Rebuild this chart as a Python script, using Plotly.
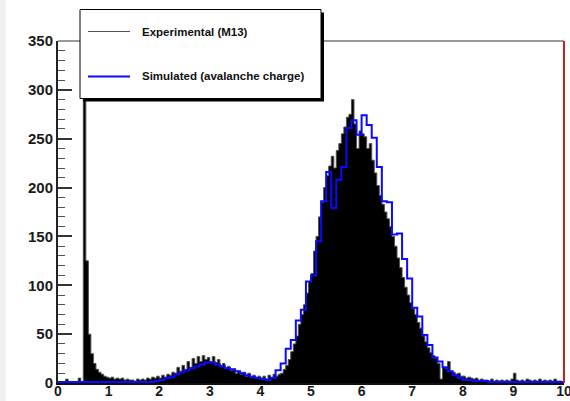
import plotly.graph_objects as go

# ---------------- data ----------------
X_RANGE = [0.0, 10.0]
Y_RANGE = [0, 350]
EXP_BIN = 0.05   # experimental histogram bin width
SIM_BIN = 0.1    # simulated histogram bin width

# Experimental (M13) counts, bins of 0.05 starting at 0.00
exp_counts = [
    0, 0, 0, 4, 0, 0, 0, 0, 5, 0,                  # 0.00-0.45
    420, 125, 50, 30, 20, 14, 11, 9, 7, 6,         # 0.50-0.95
    5, 6, 4, 5, 4, 5, 3, 4, 3, 3,                  # 1.00-1.45
    2, 4, 3, 4, 3, 5, 4, 6, 5, 7,                  # 1.50-1.95
    5, 8, 6, 9, 8, 11, 10, 16, 12, 18,             # 2.00-2.45
    14, 22, 16, 25, 20, 27, 22, 28, 24, 26,        # 2.50-2.95
    22, 27, 21, 24, 18, 20, 15, 17, 13, 14,        # 3.00-3.45
    10, 12, 9, 11, 7, 10, 6, 8, 5, 7,              # 3.50-3.95
    5, 7, 4, 8, 6, 9, 7, 9, 10, 14,                # 4.00-4.45
    18, 24, 32, 40, 48, 60, 70, 80, 92, 104,       # 4.50-4.95
    112, 135, 150, 170, 185, 200, 212, 222, 232, 220,  # 5.00-5.45
    238, 245, 255, 262, 272, 275, 290, 265, 240, 258,  # 5.50-5.95
    255, 252, 240, 245, 228, 215, 202, 192, 183, 175,  # 6.00-6.45
    168, 160, 150, 140, 128, 118, 108, 98, 90, 82,     # 6.50-6.95
    76, 70, 62, 56, 48, 42, 36, 31, 28, 25,        # 7.00-7.45
    20, 4, 16, 15, 22, 12, 11, 9, 10, 7,           # 7.50-7.95
    7, 5, 6, 5, 4, 5, 3, 4, 3, 3,                  # 8.00-8.45
    2, 4, 2, 3, 2, 3, 2, 3, 2, 4,                  # 8.50-8.95
    10, 3, 2, 3, 2, 4, 3, 2, 3, 2,                 # 9.00-9.45
    4, 2, 3, 2, 3, 2, 4, 2, 2, 1,                  # 9.50-9.95
]

# Simulated (avalanche charge) counts, bins of 0.1 starting at 0.0
sim_counts = [
    1, 1, 1, 1, 1, 1, 1, 1, 1, 1,                  # 0.0-0.9
    1, 1, 1, 1, 1, 1, 1, 1, 1, 2,                  # 1.0-1.9
    3, 5, 6, 9, 11, 13, 15, 17, 19, 21,            # 2.0-2.9
    21, 19, 17, 15, 14, 12, 10, 8, 6, 5,           # 3.0-3.9
    4, 3, 5, 13, 20, 35, 44, 64, 75, 104,          # 4.0-4.9
    110, 145, 186, 216, 179, 208, 221, 261, 269, 254,  # 5.0-5.9
    274, 264, 251, 221, 186, 185, 152, 153, 127, 107,  # 6.0-6.9
    77, 68, 49, 39, 26, 22, 16, 12, 8, 5,          # 7.0-7.9
    3, 3, 2, 2, 2, 1, 1, 1, 1, 1,                  # 8.0-8.9
    1, 1, 1, 1, 1, 1, 1, 1, 1, 1,                  # 9.0-9.9
]

x_tick_vals = list(range(0, 11))
y_tick_vals = [0, 50, 100, 150, 200, 250, 300, 350]
legend_labels = ["Experimental (M13)", "Simulated (avalanche charge)"]

# ---------------- helpers ----------------
def step_xy(counts, width, x0=0.0):
    xs = [x0 + i * width for i in range(len(counts) + 1)]
    ys = list(counts) + [counts[-1]]
    return xs, ys

W, H = 570, 401
ML, MR, MT, MB = 58, 6, 41, 18
PW, PH = W - ML - MR, H - MT - MB

def px(xp):
    return (xp - ML) / PW

def py(yp):
    return (H - MB - yp) / PH

FONT = "Liberation Sans, Arial, sans-serif"
EXP_COLOR = "#505050"
SIM_COLOR = "#0a0aff"

ex, ey = step_xy(exp_counts, EXP_BIN)
sx, sy = step_xy(sim_counts, SIM_BIN)

fig = go.Figure()
fig.add_trace(go.Scatter(
    x=ex, y=ey, mode="lines", name=legend_labels[0],
    line=dict(shape="hv", color=EXP_COLOR, width=1),
    fill="tozeroy", fillcolor="black", showlegend=False,
    hoverinfo="skip"))
fig.add_trace(go.Scatter(
    x=sx, y=sy, mode="lines", name=legend_labels[1],
    line=dict(shape="hv", color=SIM_COLOR, width=2),
    showlegend=False, hoverinfo="skip"))

shapes = []
# light strip on far left of page
shapes.append(dict(type="rect", xref="paper", yref="paper", layer="below",
                   x0=px(0), x1=px(6), y0=py(H), y1=py(0),
                   fillcolor="#f0f0f0", line=dict(width=0)))
# frame: top grey, right red
shapes.append(dict(type="line", xref="paper", yref="paper", layer="above",
                   x0=0, x1=1, y0=1, y1=1, line=dict(color="#999999", width=2)))
shapes.append(dict(type="line", xref="paper", yref="paper", layer="above",
                   x0=1, x1=1, y0=0, y1=1, line=dict(color="#cc2020", width=2)))
# legend shadow and box
shapes.append(dict(type="rect", xref="paper", yref="paper", layer="above",
                   x0=px(83), x1=px(324), y0=py(101.5), y1=py(12.5),
                   fillcolor="black", line=dict(width=0)))
shapes.append(dict(type="rect", xref="paper", yref="paper", layer="above",
                   x0=px(80), x1=px(321), y0=py(98.5), y1=py(9.5),
                   fillcolor="white", line=dict(color="black", width=1)))
# legend symbols
shapes.append(dict(type="line", xref="paper", yref="paper", layer="above",
                   x0=px(88), x1=px(130), y0=py(31.5), y1=py(31.5),
                   line=dict(color=EXP_COLOR, width=1)))
shapes.append(dict(type="line", xref="paper", yref="paper", layer="above",
                   x0=px(88), x1=px(130), y0=py(76.5), y1=py(76.5),
                   line=dict(color=SIM_COLOR, width=2)))

annotations = [
    dict(xref="paper", yref="paper", x=px(140), y=py(31.5), text=legend_labels[0],
         showarrow=False, xanchor="left", yanchor="middle",
         font=dict(family=FONT, size=11.5, color="#111111", weight="bold")),
    dict(xref="paper", yref="paper", x=px(140), y=py(76.5), text=legend_labels[1],
         showarrow=False, xanchor="left", yanchor="middle",
         font=dict(family=FONT, size=11.5, color="#111111", weight="bold")),
]

fig.update_layout(
    width=W, height=H,
    margin=dict(l=ML, r=MR, t=MT, b=MB, pad=0, autoexpand=False),
    paper_bgcolor="white", plot_bgcolor="white",
    showlegend=False,
    shapes=shapes, annotations=annotations,
    font=dict(family=FONT, color="#1a1a1a"),
    xaxis=dict(range=X_RANGE, showline=True, linecolor="#111111", linewidth=2,
               ticks="", tickvals=x_tick_vals, showgrid=False, zeroline=False,
               automargin=False, ticklabeloverflow="allow", ticklabelstandoff=-6,
               tickfont=dict(family=FONT, size=14, color="#1a1a1a", weight="bold")),
    yaxis=dict(range=Y_RANGE, showline=True, linecolor="#222222", linewidth=2,
               ticks="inside", ticklen=14, tickwidth=1.5, tickcolor="#333333",
               tickvals=y_tick_vals, showgrid=False, zeroline=False,
               automargin=False, ticklabeloverflow="allow",
               minor=dict(ticks="inside", ticklen=7, dtick=10, tickwidth=1,
                          tickcolor="#555555", showgrid=False),
               tickfont=dict(family=FONT, size=15, color="#1a1a1a", weight="bold")),
)

fig.write_html("out.html")
